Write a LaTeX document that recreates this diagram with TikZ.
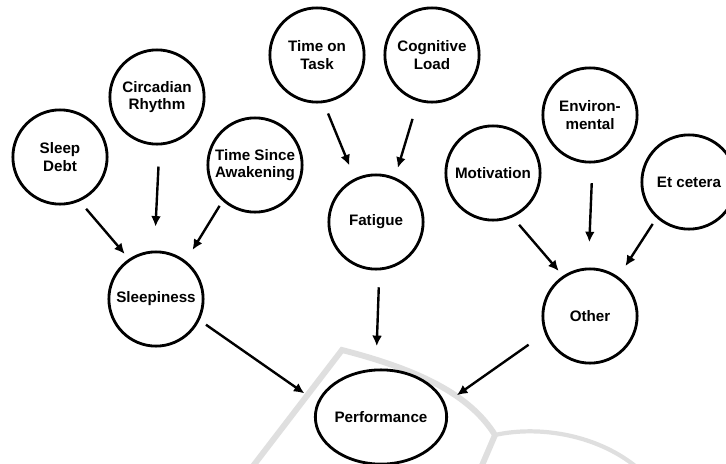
\documentclass[tikz,border=0pt]{standalone}
\usepackage{fontspec}
\setmainfont{Liberation Sans}
\usetikzlibrary{arrows.meta,shapes.geometric}

\tikzset{
  bubble/.style={circle, draw, line width=2pt, minimum size=67pt, inner sep=0pt,
    align=center, font=\fontsize{10.8}{12.2}\selectfont\bfseries},
  outcome/.style={ellipse, draw, line width=2pt, minimum width=88pt, minimum height=67pt,
    inner sep=0pt, font=\fontsize{10.8}{12.2}\selectfont\bfseries},
  arr/.style={line width=1.7pt, -{Latex[length=7.5pt,width=7pt]}},
  wmark/.style={gray!25, line width=4.2pt}
}

\begin{document}
\begin{tikzpicture}[x=0.025cm,y=-0.025cm] % 1 unit = 1 px of the sketch

\useasboundingbox (0,0) rectangle (726,463);

% faint watermark behind
\draw[wmark] (250,470) -- (342,350) .. controls (420,370) and (470,395) .. (495,435) -- (480,470);
\draw[wmark, line width=3pt] (495,435) .. controls (540,425) and (600,435) .. (640,470);

% causes
\node[bubble] (debt) at (60,157) {Sleep\\Debt};
\node[bubble] (rhythm) at (157,97) {Circadian\\Rhythm};
\node[bubble] (awake) at (255,165) {Time Since\\Awakening};
\node[bubble] (task) at (317,55) {Time on\\Task};
\node[bubble] (load) at (432,55) {Cognitive\\Load};
\node[bubble] (motiv) at (493,173) {Motivation};
\node[bubble] (envir) at (590,115) {Environ-\\mental};
\node[bubble] (etc) at (689,182) {Et cetera};

% middle level
\node[bubble] (sleepy) at (156,299) {Sleepiness};
\node[bubble] (fatigue) at (376,222) {Fatigue};
\node[bubble] (other) at (590,316) {Other};

\node[outcome] (perf) at (381,417) {Performance};

% arrows
\draw[arr, shorten <=7pt, shorten >=4.5pt] (debt.-66) -- (sleepy.124);
\draw[arr, shorten <=15pt, shorten >=17pt] (rhythm.-87) -- (sleepy.92);
\draw[arr, shorten <=4pt, shorten >=9pt] (awake.-132) -- (sleepy.52);

\draw[arr, shorten <=8pt, shorten >=10pt] (task.-82) -- (fatigue.116);
\draw[arr, shorten <=13pt, shorten >=7pt] (load.-107) -- (fatigue.67);

\draw[arr, shorten <=7pt, shorten >=4.5pt] (motiv.-66) -- (other.124);
\draw[arr, shorten <=14pt, shorten >=18pt] (envir.-87) -- (other.92);
\draw[arr, shorten <=5pt, shorten >=9pt] (etc.-132) -- (other.54);

\draw[arr, shorten <=5.5pt, shorten >=11pt] (sleepy.-26) -- (perf.167);
\draw[arr, shorten <=12pt, shorten >=16pt] (fatigue.-86) -- (perf.96);
\draw[arr, shorten <=14pt, shorten >=10pt] (other.-159) -- (perf.12);

\end{tikzpicture}
\end{document}
